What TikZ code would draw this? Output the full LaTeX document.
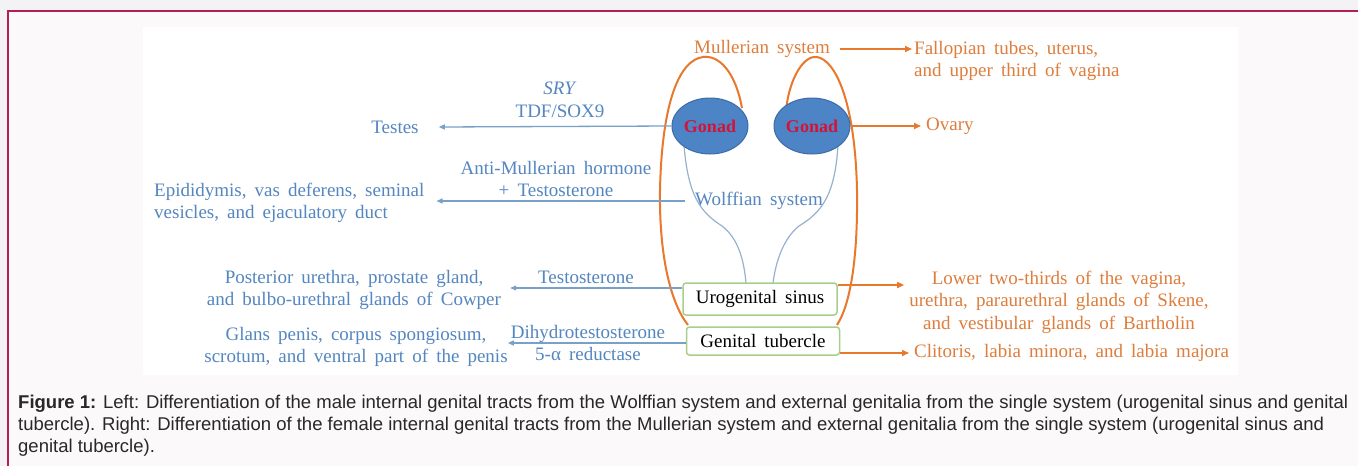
\documentclass[tikz,border=0pt]{standalone}
\usepackage{fontspec}
\setmainfont{Liberation Serif}[WordSpace=1.7]
\setsansfont{Liberation Sans}
\usetikzlibrary{positioning, arrows.meta, calc, shapes.geometric}
\definecolor{mblue}{RGB}{84,134,192}
\definecolor{lblue}{RGB}{120,160,200}
\definecolor{wblue}{RGB}{150,178,206}
\definecolor{morange}{RGB}{222,125,60}
\definecolor{lorange}{RGB}{232,120,44}
\definecolor{gonfill}{RGB}{76,132,198}
\definecolor{gonline}{RGB}{60,108,168}
\definecolor{gonred}{RGB}{210,20,56}
\definecolor{boxgreen}{RGB}{168,206,140}
\definecolor{framered}{RGB}{180,30,80}
\definecolor{captxt}{RGB}{40,40,40}
\definecolor{pagegray}{RGB}{243,243,245}
\definecolor{pagepink}{RGB}{251,249,250}
\tikzset{
  txt/.style={font=\fontsize{19}{22.5}\selectfont, inner sep=0pt, align=center},
  male/.style={txt, text=mblue},
  fem/.style={txt, text=morange},
  gonad/.style={ellipse, fill=gonfill, draw=gonline, line width=1pt, minimum width=76pt, minimum height=56pt, inner sep=0pt, font=\fontsize{18}{20}\selectfont\bfseries, text=gonred},
  sinusbox/.style={txt, draw=boxgreen, fill=white, line width=1.5pt, rounded corners=3pt, minimum width=154pt, text=black},
  barr/.style={-{Triangle[length=6pt,width=5pt]}, lblue, line width=1.3pt},
  oarr/.style={-{Triangle[length=7pt,width=6pt]}, lorange, line width=1.6pt},
  duct/.style={lorange, line width=2pt},
  wduct/.style={wblue, line width=1.2pt},
  figcap/.style={font=\sffamily\fontsize{18.5}{22}\selectfont, text=captxt, inner sep=0pt, anchor=base west}
}

\begin{document}
\begin{tikzpicture}[x=1pt, y=-1pt]
\useasboundingbox (0,0) rectangle (1358,466);
% page and frame
\fill[pagegray] (0,0) rectangle (1358,466);
\fill[pagepink] (8,11) rectangle (1358,466);
\draw[framered, line width=2pt] (8,466) -- (8,11) -- (1358,11);
\fill[white] (143,27) rectangle (1238,375);

% Mullerian and Wolffian ducts
\draw[duct] (742,108) .. controls (735,70) and (718,55) .. (703,57)
  .. controls (680,60) and (662,100) .. (660,190)
  .. controls (659,260) and (672,305) .. (688,325);
\draw[duct] (786,110) .. controls (790,75) and (805,55) .. (817,57)
  .. controls (835,60) and (855,100) .. (857,190)
  .. controls (858,260) and (850,305) .. (837,325);
\draw[wduct] (684,145) .. controls (688,195) and (700,212) .. (722,226)
  .. controls (738,238) and (744,260) .. (746,283);
\draw[wduct] (838,145) .. controls (835,195) and (822,212) .. (799,226)
  .. controls (784,238) and (776,260) .. (773,283);

\node[fem] (mull) at (762,49) {Mullerian system};
\node[fem, align=left, anchor=west] (fallop) at (914,61) {Fallopian tubes, uterus,\\and upper third of vagina};
\node[gonad] (gonL) at (710,126) {Gonad};
\node[gonad] (gonR) at (812,126) {Gonad};
\node[fem, anchor=west] (ovary) at (926,126) {Ovary};
\node[male] (sry) at (560,100) {\textit{SRY}\\TDF/SOX9};
\node[male] (testes) at (395,127) {Testes};
\node[male] (amh) at (556,179) {Anti-Mullerian hormone\\+ Testosterone};
\node[male, align=left, anchor=west] (epid) at (154,203) {Epididymis, vas deferens, seminal\\vesicles, and ejaculatory duct};
\node[male] (wolf) at (759,201) {Wolffian system};
\node[sinusbox, minimum height=32pt] (sinus) at (760,299) {Urogenital sinus};
\node[sinusbox, minimum height=28pt, minimum width=153pt] (tub) at (763,341) {Genital tubercle};
\node[male] (post) at (354,290) {Posterior urethra, prostate gland,\\and bulbo-urethral glands of Cowper};
\node[male] (testo) at (586,277) {Testosterone};
\node[male] (glans) at (356,347) {Glans penis, corpus spongiosum,\\scrotum, and ventral part of the penis};
\node[male] (dht) at (588,343) {Dihydrotestosterone\\5-α reductase};
\node[fem] (lower) at (1059,302) {Lower two-thirds of the vagina,\\urethra, paraurethral glands of Skene,\\and vestibular glands of Bartholin};
\node[fem, anchor=west] (clit) at (914,353) {Clitoris, labia minora, and labia majora};

% male side
\draw[barr] (gonL.west) -- ([xshift=20pt]testes.east);
\draw[barr] ([xshift=-10pt]wolf.west) -- ($(epid.east |- wolf.west)+(12,0)$);
\draw[barr] ([yshift=11pt]sinus.west) -- ($([yshift=11pt]sinus.west -| post.east)+(9,0)$);
\draw[barr] ([yshift=-2pt]tub.west) -- ([yshift=-2pt]tub.west -| glans.east);
% female side
\draw[oarr] ([xshift=10pt]mull.east) -- ([xshift=-2pt]fallop.west |- mull.east);
\draw[oarr] (gonR.east) -- ([xshift=-5pt]ovary.west);
\draw[oarr] ([yshift=14pt]sinus.east) -- ($([yshift=14pt]sinus.east -| lower.west)+(-5,0)$);
\draw[oarr] ([yshift=-12pt]tub.east) -- ([xshift=-5pt]clit.west);

% caption
\node[figcap] (cap1) at (18,408) {\textbf{Figure 1:} Left: Differentiation of the male internal genital tracts from the Wolffian system and external genitalia from the single system (urogenital sinus and genital};
\node[figcap] (cap2) at (18,430) {tubercle). Right: Differentiation of the female internal genital tracts from the Mullerian system and external genitalia from the single system (urogenital sinus and};
\node[figcap] (cap3) at (18,452) {genital tubercle).};
\end{tikzpicture}
\end{document}
